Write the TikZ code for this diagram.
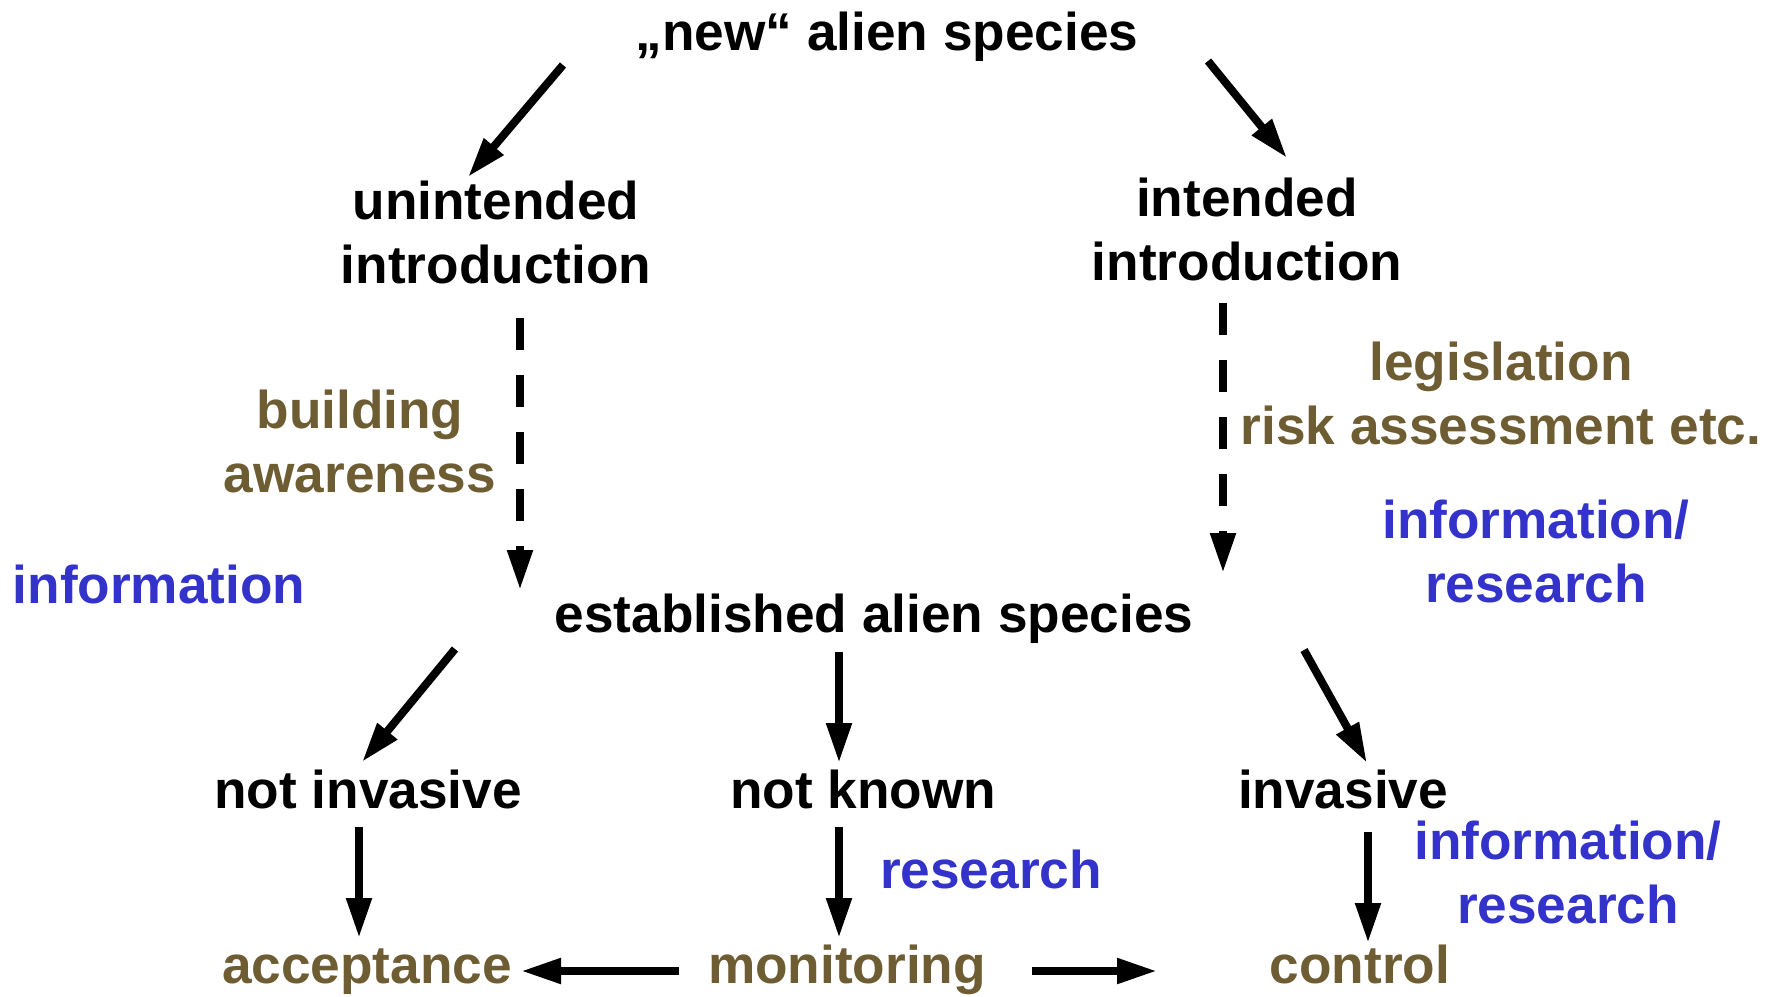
\documentclass[tikz,border=0pt]{standalone}
\usepackage{fontspec}
\setmainfont{Liberation Sans}
\usetikzlibrary{arrows.meta,calc}
\definecolor{olive}{RGB}{110,92,50}
\definecolor{infoblue}{RGB}{51,51,204}
\newcommand{\twolines}[2]{\begin{tabular}[t]{@{}c@{}}#1\\#2\end{tabular}}
\begin{document}
\begin{tikzpicture}[x=0.5pt,y=-0.5pt,
  every node/.style={inner sep=0pt,outer sep=0pt,anchor=base,font=\fontsize{26.6}{32}\selectfont\bfseries},
  lbl/.style={text=black},
  act/.style={text=olive},
  info/.style={text=infoblue},
  arr/.style={line width=4pt,-{Triangle[length=20pt,width=12pt]}},
  darr/.style={arr,dash pattern=on 16pt off 12.5pt}]
\useasboundingbox (0,0) rectangle (1783,996);
\fill[white] (0,0) rectangle (1783,996);
% nodes
\node[lbl] (new) at (887,50) {„new“ alien species};
\node[lbl] (unint) at (496,219) {\twolines{unintended}{introduction}};
\node[lbl] (int) at (1247,216) {\twolines{intended}{introduction}};
\node[act] (build) at (360,428) {\twolines{building}{awareness}};
\node[act] (legis) at (1501,380) {\twolines{legislation}{risk assessment etc.}};
\node[info] (info1) at (1536,538) {\twolines{information/}{research}};
\node[info] (info0) at (159,603) {information};
\node[lbl] (est) at (874,632) {established alien species};
\node[lbl] (notinv) at (368,808) {not invasive};
\node[lbl] (notknown) at (863,808) {not known};
\node[lbl] (inv) at (1343,808) {invasive};
\node[info] (res) at (991,888) {research};
\node[info] (info2) at (1568,859) {\twolines{information/}{research}};
\node[act] (acc) at (367,983) {acceptance};
\node[act] (mon) at (847,983) {monitoring};
\node[act] (ctrl) at (1360,983) {control};
% connectors
\draw[arr] ($(new.base)+(-324,15)$) -- ($(unint.base)+(-28,-42)$);
\draw[arr] ($(new.base)+(321,11)$) -- ($(int.base)+(40,-58)$);
\draw[darr] ($(unint.base)+(24,99)$) -- ($(est.base)+(-354,-42)$);
\draw[darr] ($(int.base)+(-24,87)$) -- ($(est.base)+(349,-59)$);
\draw[arr] ($(est.base)+(-419,17)$) -- ($(notinv.base)+(-6,-46)$);
\draw[arr] ($(est.base)+(-35,20)$) -- ($(notknown.base)+(-24,-45)$);
\draw[arr] ($(est.base)+(430,18)$) -- ($(inv.base)+(24,-45)$);
\draw[arr] ($(notinv.base)+(-9,19)$) -- ($(acc.base)+(-8,-45)$);
\draw[arr] ($(notknown.base)+(-24,19)$) -- ($(mon.base)+(-8,-45)$);
\draw[arr] ($(inv.base)+(25,24)$) -- ($(ctrl.base)+(8,-40)$);
\draw[arr] ($(mon.base)+(-168,-12)$) -- ($(acc.base)+(154,-12)$);
\draw[arr] ($(mon.base)+(185,-12)$) -- ($(ctrl.base)+(-203,-12)$);
\end{tikzpicture}
\end{document}
